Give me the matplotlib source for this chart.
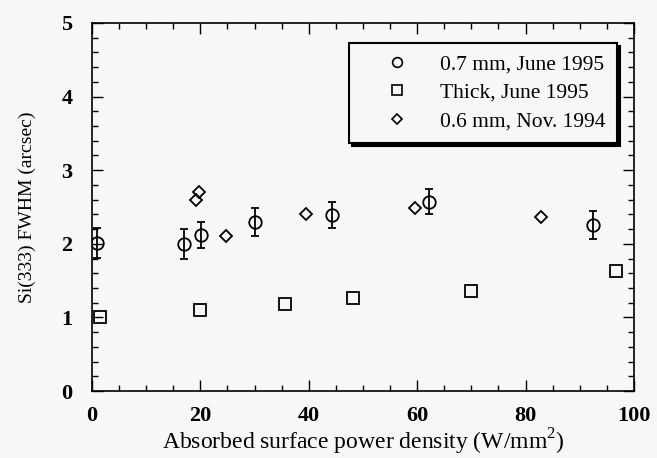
import matplotlib
matplotlib.use("Agg")
import matplotlib.pyplot as plt
from matplotlib.ticker import MultipleLocator

plt.rcParams['font.family'] = ['Liberation Serif', 'DejaVu Serif']
plt.rcParams['mathtext.fontset'] = 'custom'
plt.rcParams['mathtext.rm'] = 'Liberation Serif'

# 0.7 mm, June 1995 (with error bars)
x_07 = [1.0, 17.0, 20.1, 30.0, 44.2, 62.2, 92.4]
y_07 = [2.01, 2.00, 2.12, 2.30, 2.39, 2.57, 2.26]
e_07 = [0.20, 0.20, 0.18, 0.19, 0.18, 0.17, 0.19]

# Thick, June 1995
x_thick = [1.5, 20.0, 35.7, 48.2, 69.9, 96.7]
y_thick = [1.01, 1.10, 1.18, 1.27, 1.36, 1.63]

# 0.6 mm, Nov. 1994
x_06 = [19.2, 19.8, 24.7, 39.4, 59.6, 82.8]
y_06 = [2.60, 2.71, 2.10, 2.40, 2.48, 2.37]

labels = ["0.7 mm, June 1995", "Thick, June 1995", "0.6 mm, Nov. 1994"]

fig = plt.figure(figsize=(6.57, 4.58), dpi=100)
fig.patch.set_facecolor('#f7f7f7')
ax = fig.add_axes([0.140, 0.146, 0.825, 0.804])
ax.set_facecolor('#f7f7f7')

ax.errorbar(x_07, y_07, yerr=e_07, fmt='o', mfc='none', mec='black', ecolor='black',
            ms=9, mew=1.3, elinewidth=1.3, capsize=3, capthick=1.3)
ax.plot(x_thick, y_thick, 's', mfc='none', mec='black', ms=9, mew=1.3)
ax.plot(x_06, y_06, 'D', mfc='none', mec='black', ms=6.5, mew=1.3)

# legend handles without error bars
h1, = ax.plot([], [], 'o', mfc='none', mec='black', ms=7, mew=1.2)
h2, = ax.plot([], [], 's', mfc='none', mec='black', ms=7, mew=1.2)
h3, = ax.plot([], [], 'D', mfc='none', mec='black', ms=5.5, mew=1.2)
leg = ax.legend([h1, h2, h3], labels, loc='upper right', bbox_to_anchor=(0.969, 0.946),
                fontsize=15.5, frameon=True, fancybox=False, edgecolor='black',
                handlelength=3.3, handletextpad=0.35, borderpad=0.55, borderaxespad=0,
                labelspacing=0.38, shadow={'color': 'black', 'alpha': 1.0})
leg.get_frame().set_linewidth(1.5)
leg.get_frame().set_facecolor('#f7f7f7')
leg.get_frame().set_alpha(1.0)

ax.set_xlim(0, 100)
ax.set_ylim(0, 5)
ax.xaxis.set_major_locator(MultipleLocator(20))
ax.xaxis.set_minor_locator(MultipleLocator(5))
ax.yaxis.set_major_locator(MultipleLocator(1))
ax.yaxis.set_minor_locator(MultipleLocator(0.2))
ax.tick_params(which='both', direction='in', top=True, right=True, width=1.0)
ax.tick_params(which='major', length=8, labelsize=16)
ax.tick_params(axis='x', which='major', pad=11)
ax.tick_params(axis='y', which='major', pad=14)
ax.tick_params(which='minor', length=4)
for lab in ax.get_xticklabels() + ax.get_yticklabels():
    lab.set_fontweight('bold')
for sp in ax.spines.values():
    sp.set_linewidth(1.2)

ax.set_xlabel("Absorbed surface power density (W/mm$^2$)", fontsize=17, labelpad=0)
ax.set_ylabel("Si(333) FWHM (arcsec)", fontsize=14, labelpad=18)

fig.savefig("out.png", dpi=100, facecolor=fig.get_facecolor())
